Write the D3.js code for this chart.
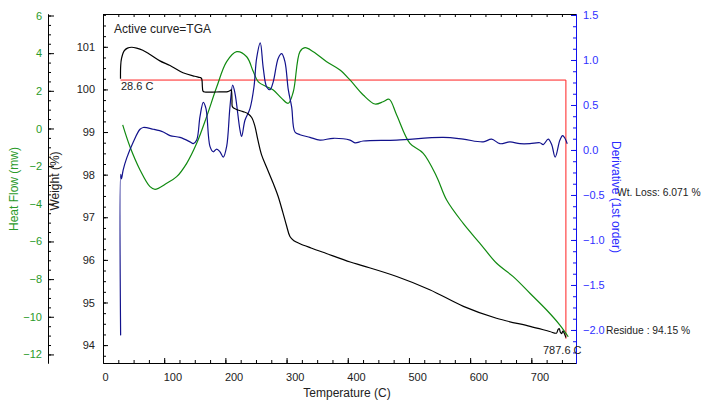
<!DOCTYPE html>
<html>
<head>
<meta charset="utf-8">
<script src="https://cdn.jsdelivr.net/npm/d3@7"></script>
<style>
  body { margin: 0; background: #fff; }
  text { font-family: "Liberation Sans", Arial, sans-serif; }
</style>
</head>
<body>
<svg width="701" height="401"></svg>
<script>
// data: [temperature, value]
const tgaCurve = [[28.6,100.25],[28.9,100.55],[30.2,100.72],[34.3,100.9],[40,100.97],[46.9,100.99],[55,100.97],
  [65,100.92],[76.8,100.82],[93,100.67],[109.5,100.56],[130.7,100.39],[150,100.31],[158.5,100.28],[161,100.26],
  [162.5,100.05],[163.4,99.96],[166,99.94],[185,99.94],[204,99.95],[207.5,99.97],[209.5,99.99],[210.8,99.75],
  [211.6,99.59],[218,99.53],[228.8,99.48],[237,99.43],[243,99.34],[248,99.15],[253,98.82],[259,98.47],[268,98.15],
  [277.8,97.81],[286,97.5],[294,97.11],[300,96.8],[305.5,96.55],[312,96.45],[322,96.38],[340,96.28],[365,96.15],
  [404,95.95],[425,95.86],[480,95.61],[534,95.3],[589,94.91],[643,94.63],[698,94.44],[730,94.32],[741,94.28],
  [743.5,94.36],[745.6,94.39],[747.5,94.3],[749.5,94.27],[751.5,94.33],[753,94.3],[756.5,94.18]];

const heatCurve = [[32.2,0.19],[44.1,-0.97],[60.5,-2.2],[76.8,-3.09],[85,-3.23],[104.1,-2.91],[120.4,-2.56],
  [136.8,-1.85],[153.1,-0.79],[169.4,0.63],[185.8,2.2],[202.1,3.55],[218.5,4.08],[234.8,3.81],[245.6,3.02],
  [253.8,2.48],[267.5,2.22],[278.3,2.04],[292,1.6],[302.8,1.34],[311,1.95],[321.9,4.08],[330.1,4.29],[343.6,4.08],
  [365.5,3.55],[387.3,3.11],[403.6,2.58],[425.3,1.78],[444.4,1.3],[457.8,1.42],[467.6,1.55],[479.9,0.72],
  [501.6,-0.79],[523.4,-1.32],[545.3,-2.56],[561.6,-3.8],[588.7,-5.04],[616,-6.1],[643.3,-7.16],[670.4,-7.87],
  [697.7,-8.75],[725,-9.64],[746.7,-10.44],[760.3,-11.06]];

const derivCurve = [[28.8,-2.06],[28.9,-0.27],[30.2,-0.32],[33,-0.22],[38.7,-0.09],[49.5,0.09],[60.5,0.23],
  [65.8,0.25],[82.2,0.23],[98.5,0.2],[109.5,0.16],[125.8,0.14],[142.2,0.09],[147.5,0.07],[153.1,0.11],
  [158.5,0.37],[163.9,0.53],[168.3,0.46],[174.8,0.04],[180.2,-0.02],[185.8,0.01],[191.2,-0.02],[196.6,-0.08],
  [202.1,0.04],[207.5,0.48],[211.9,0.72],[215.7,0.63],[223.9,0.22],[226.6,0.15],[232,0.33],[240.2,0.46],
  [246.7,0.7],[251.1,1.02],[257,1.19],[261.9,0.91],[267.5,0.7],[272.9,0.67],[278.3,0.76],[286.4,1.02],[292,1.07],
  [297.4,0.98],[302.8,0.67],[308.3,0.48],[313.7,0.2],[321.9,0.17],[338.2,0.14],[354.6,0.11],[376.3,0.13],
  [403.6,0.11],[411.8,0.08],[425.3,0.1],[479.9,0.11],[556,0.14],[588.7,0.12],[621.4,0.09],[635.1,0.12],
  [648.7,0.07],[665,0.09],[681.4,0.07],[697.7,0.07],[714,0.08],[719.5,0.06],[727.6,0.12],[733.2,0.06],
  [739,-0.08],[746.7,0.11],[751.1,0.16],[754.9,0.13],[758.7,0.07]];

const tempTicks = [0,100,200,300,400,500,600,700];
const weightTicks = [94,95,96,97,98,99,100,101];
const heatTicks = [-12,-10,-8,-6,-4,-2,0,2,4,6];
const derivTicks = [-2.0,-1.5,-1.0,-0.5,0.0,0.5,1.0,1.5];

const startTemp = 28.6, endTemp = 756.5;
const startWeight = 100.22, residue = 94.15;

const svg = d3.select('svg');
const pLeft = 103, pRight = 576, pTop = 14, pBottom = 363;

const x = d3.scaleLinear().domain([0, 773]).range([pLeft, pRight]);
const yW = d3.scaleLinear().domain([93.58, 101.77]).range([pBottom, pTop]);
const yH = d3.scaleLinear().domain([-12.455, 6.08]).range([pBottom, pTop]);
const yD = d3.scaleLinear().domain([-2.367, 1.511]).range([pBottom, pTop]);

const fnt = 11;

function styleAxis(g, lineCol, textCol){
  g.select('.domain').attr('stroke', lineCol);
  g.selectAll('.tick line').attr('stroke', lineCol);
  g.selectAll('text').attr('fill', textCol).style('font-size', fnt + 'px')
    .style('font-family', '"Liberation Sans", Arial, sans-serif');
}

// bottom axis
const minorT = d3.range(0, 775, 25);
svg.append('g').attr('transform', `translate(0,${pBottom})`)
  .call(d3.axisBottom(x).tickValues(minorT).tickSize(-3).tickFormat('').tickSizeOuter(0))
  .call(g => styleAxis(g, '#000', '#222'));
svg.append('g').attr('transform', `translate(0,${pBottom})`)
  .call(d3.axisBottom(x).tickValues(tempTicks).tickSize(-5).tickPadding(10).tickSizeOuter(0))
  .call(g => { styleAxis(g, '#000', '#222'); g.selectAll('text').attr('text-anchor', 'start').attr('x', -1); });

// top border
svg.append('g').attr('transform', `translate(0,${pTop})`)
  .call(d3.axisTop(x).tickValues(minorT).tickSize(-3).tickFormat('').tickSizeOuter(0))
  .call(g => styleAxis(g, '#000', '#222'));

// weight axis
svg.append('g').attr('transform', `translate(${pLeft},0)`)
  .call(d3.axisLeft(yW).tickValues(d3.range(93.75, 101.8, 0.25)).tickSize(-3).tickFormat('').tickSizeOuter(0))
  .call(g => styleAxis(g, '#000', '#222'));
svg.append('g').attr('transform', `translate(${pLeft},0)`)
  .call(d3.axisLeft(yW).tickValues(weightTicks).tickSize(-5).tickPadding(8).tickSizeOuter(0))
  .call(g => styleAxis(g, '#000', '#222'));

// heat flow axis
const hx = 48;
svg.append('g').attr('transform', `translate(${hx},0)`)
  .call(d3.axisLeft(yH).tickValues(d3.range(-12, 6.1, 0.5)).tickSize(-3).tickFormat('').tickSizeOuter(0))
  .call(g => styleAxis(g, '#000', '#2a9a2a'));
svg.append('g').attr('transform', `translate(${hx},0)`)
  .call(d3.axisLeft(yH).tickValues(heatTicks).tickSize(-6).tickPadding(6).tickSizeOuter(0))
  .call(g => styleAxis(g, '#000', '#2a9a2a'));

// derivative axis
svg.append('g').attr('transform', `translate(${pRight},0)`)
  .call(d3.axisRight(yD).tickValues(d3.range(-2.25, 1.51, 0.125)).tickSize(-3).tickFormat('').tickSizeOuter(0))
  .call(g => styleAxis(g, '#1010ee', '#3030ff'));
svg.append('g').attr('transform', `translate(${pRight},0)`)
  .call(d3.axisRight(yD).tickValues(derivTicks).tickSize(-5).tickPadding(7).tickFormat(d3.format('.1f')).tickSizeOuter(0))
  .call(g => styleAxis(g, '#1010ee', '#3030ff'));

// red wt-loss marker
svg.append('path')
  .attr('d', d3.line()([[x(startTemp), yW(startWeight)], [x(endTemp), yW(startWeight)], [x(endTemp), yW(residue)]]))
  .attr('fill', 'none').attr('stroke', '#ff2020').attr('stroke-width', 1);

// curves
const curve = d3.curveCatmullRom.alpha(0.5);
svg.append('path').datum(heatCurve)
  .attr('d', d3.line().x(d => x(d[0])).y(d => yH(d[1])).curve(curve))
  .attr('fill', 'none').attr('stroke', '#108a10').attr('stroke-width', 1.2);
svg.append('path').datum(derivCurve)
  .attr('d', d3.line().x(d => x(d[0])).y(d => yD(d[1])).curve(curve))
  .attr('fill', 'none').attr('stroke', '#12128c').attr('stroke-width', 1.2);
svg.append('path').datum(tgaCurve)
  .attr('d', d3.line().x(d => x(d[0])).y(d => yW(d[1])).curve(curve))
  .attr('fill', 'none').attr('stroke', '#000').attr('stroke-width', 1.2);

// texts
const txt = (s, tx, ty, opts = {}) => svg.append('text')
  .attr('x', tx).attr('y', ty).text(s)
  .attr('fill', opts.fill || '#222')
  .attr('text-anchor', opts.anchor || 'start')
  .attr('transform', opts.rot ? `rotate(${opts.rot},${tx},${ty})` : null)
  .style('font-size', (opts.size || 11) + 'px');

txt('Active curve=TGA', 114, 32.5, {size: 12});
txt('28.6 C', 121, 90);
txt('787.6 C', 543, 354);
txt('Wt. Loss: 6.071 %', 617, 196, {size: 10.3});
txt('Residue : 94.15 %', 606, 334, {size: 10.3});
txt('Temperature (C)', 347, 397, {anchor: 'middle', size: 12});
txt('Heat Flow (mw)', 17.5, 189, {anchor: 'middle', size: 12, rot: -90, fill: '#2a9a2a'});
txt('Weight (%)', 59, 181, {anchor: 'middle', size: 12, rot: -90});
txt('Derivative (1st order)', 612, 197, {anchor: 'middle', size: 12, rot: 90, fill: '#2a2aff'});
</script>
</body>
</html>
